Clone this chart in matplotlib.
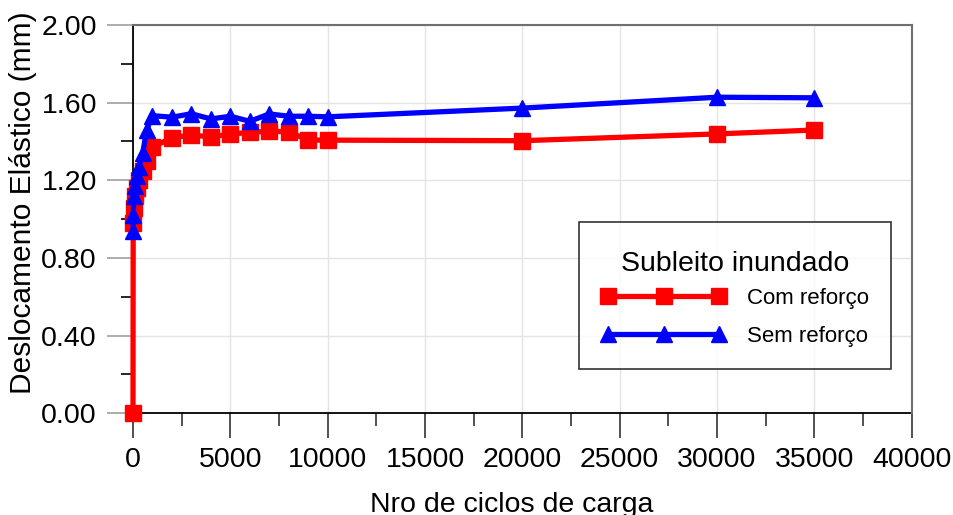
import matplotlib
matplotlib.use("Agg")
import matplotlib.pyplot as plt
from matplotlib.ticker import MultipleLocator, FormatStrFormatter

plt.rcParams['font.family'] = ['Liberation Sans', 'DejaVu Sans']

# Data
ciclos_com = [0, 10, 50, 100, 200, 300, 500, 700, 1000, 2000, 3000, 4000, 5000,
              6000, 7000, 8000, 9000, 10000, 20000, 30000, 35000]
desl_com = [0.00, 0.98, 1.06, 1.12, 1.16, 1.20, 1.25, 1.30, 1.37, 1.42, 1.433, 1.424,
            1.438, 1.447, 1.453, 1.450, 1.407, 1.407, 1.404, 1.439, 1.459]

ciclos_sem = [1, 10, 50, 100, 200, 300, 500, 700, 1000, 2000, 3000, 4000, 5000,
              6000, 7000, 8000, 9000, 10000, 20000, 30000, 35000]
desl_sem = [0.94, 1.02, 1.12, 1.17, 1.22, 1.27, 1.34, 1.46, 1.533, 1.525, 1.543, 1.516,
            1.530, 1.504, 1.542, 1.530, 1.530, 1.527, 1.572, 1.628, 1.625]

x_ticks = [0, 5000, 10000, 15000, 20000, 25000, 30000, 35000, 40000]
y_ticks = [0.00, 0.40, 0.80, 1.20, 1.60, 2.00]
legend_title = 'Subleito inundado'

fig = plt.figure(figsize=(9.54, 5.15), dpi=100)
ax = fig.add_axes([133/954, 1-413.3/515, (911.7-133)/954, (413.3-25)/515])

ax.plot(ciclos_com, desl_com, color='#ff0000', lw=3.8, marker='s', ms=11,
        label='Com reforço', zorder=3, clip_on=False)
ax.plot(ciclos_sem, desl_sem, color='#0000ff', lw=3.8, marker='^', ms=12,
        label='Sem reforço', zorder=4, clip_on=False)

ax.set_xlim(0, 40000)
ax.set_ylim(0, 2.0)
ax.set_xticks(x_ticks)
ax.set_yticks(y_ticks)
ax.xaxis.set_minor_locator(MultipleLocator(2500))
ax.yaxis.set_minor_locator(MultipleLocator(0.2))
ax.yaxis.set_major_formatter(FormatStrFormatter('%.2f'))

ax.grid(True, which='major', color='#e4e4e4', lw=1.0, zorder=0)
ax.set_axisbelow(True)

ax.tick_params(axis='y', which='major', direction='out', length=19, width=1.2,
               color='#a0a0a0', labelsize=20.5, pad=7)
ax.tick_params(axis='y', which='minor', direction='out', length=9, width=1.2,
               color='black')
ax.tick_params(axis='x', which='major', direction='out', length=18, width=1.2,
               color='#333333', labelsize=20.5, pad=6)
ax.tick_params(axis='x', which='minor', direction='out', length=9, width=1.2,
               color='#333333')

for s in ['left', 'bottom']:
    ax.spines[s].set_color('black')
    ax.spines[s].set_linewidth(1.3)
    ax.spines[s].set_zorder(2.5)
for s in ['top', 'right']:
    ax.spines[s].set_color('#707070')
    ax.spines[s].set_linewidth(1.5)
    ax.spines[s].set_zorder(5)

ax.set_xlabel('Nro de ciclos de carga', fontsize=20.5, labelpad=0)
ax.xaxis.set_label_coords((511.5-133)/778.7, -(491.5-413.3)/388.3)
ax.set_ylabel('Deslocamento Elástico (mm)', fontsize=21.5)
ax.yaxis.set_label_coords(-(133-37)/778.7, (413.3-203)/388.3)

leg = ax.legend(loc='upper left', bbox_to_anchor=(0.573, 0.493), borderaxespad=0,
                title=' ', title_fontsize=20, fontsize=16,
                numpoints=3, handlelength=5.6, handletextpad=0.95,
                frameon=True, fancybox=False, edgecolor='black',
                borderpad=1.0, labelspacing=0.79)
leg.get_frame().set_linewidth(1.2)
leg.set_zorder(6)

ax.text((735-133)/778.7, (413.3-264)/388.3, legend_title, transform=ax.transAxes,
        ha='center', va='center', fontsize=20.5, zorder=7)

fig.savefig('out.png', dpi=100)
